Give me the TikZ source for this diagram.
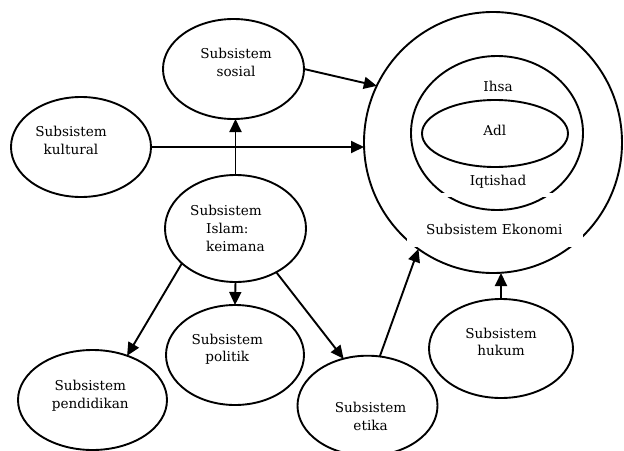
\documentclass[tikz,border=0pt]{standalone}
\usepackage{fontspec}
\setmainfont{DejaVu Serif}
\usetikzlibrary{arrows.meta,shapes.geometric}
\begin{document}
\begin{tikzpicture}[x=1pt,y=-1pt,
  bubble/.style={ellipse,draw,line width=1.9pt,inner sep=0pt,outer sep=0pt},
  lbl/.style={font=\fontsize{13.6}{17.6}\selectfont,align=center,anchor=base,inner sep=0pt},
  link/.style={line width=1.9pt,-{Triangle[length=13pt,width=12pt]}}]
\clip (0,0) rectangle (624,450);

% subsystem bubbles
\node[bubble,minimum width=141,minimum height=100] (sosial) at (233.5,69) {};
\node[bubble,minimum width=140,minimum height=100] (kultural) at (81,147) {};
\node[bubble,minimum width=141,minimum height=107] (islam) at (235.5,228.5) {};
\node[bubble,minimum width=138,minimum height=100] (politik) at (235,355) {};
\node[bubble,minimum width=149,minimum height=100] (pendidikan) at (92.5,400) {};
\node[bubble,minimum width=140,minimum height=100] (etika) at (367.5,405.7) {};
\node[bubble,minimum width=144,minimum height=99] (hukum) at (501,348.5) {};

% economic subsystem: nested rings
\node[bubble,minimum width=258,minimum height=261] (eko) at (493,142.5) {};
\node[bubble,minimum width=172,minimum height=154] (iqtishad) at (497,133) {};
\node[bubble,minimum width=146,minimum height=67] (adl) at (495,133.5) {};

% white panel behind the economic caption
\fill[white] (407,193) rectangle (583,247);
\begin{scope}
  \clip (400,197) rectangle (600,215);
  \draw[line width=1.9pt] (497,133) ellipse [x radius=86, y radius=77];
\end{scope}

% captions (base anchor = baseline of the last line)
\node[lbl] (tSosial) at (236,76) {Subsistem\\sosial};
\node[lbl] (tKultural) at (71,154) {Subsistem\\kultural};
\node[lbl,align=left,anchor=base west] (tIslam) at (190,251) {Subsistem\\\hspace*{16pt}Islam:\\\hspace*{16pt}keimana};
\node[lbl] (tPolitik) at (227.3,361.7) {Subsistem\\politik};
\node[lbl] (tPendidikan) at (90.3,408) {Subsistem\\pendidikan};
\node[lbl] (tEtika) at (370.6,430) {Subsistem\\etika};
\node[lbl] (tHukum) at (501,355.7) {Subsistem\\hukum};
\node[lbl] (tIhsa) at (498,91.7) {Ihsa};
\node[lbl] (tAdl) at (494.7,135) {Adl};
\node[lbl] (tIqtishad) at (498,185) {Iqtishad};
\node[lbl] (tEkonomi) at (494.3,234) {Subsistem Ekonomi};

% influences
\draw[link] (sosial.east) -- (eko.154.5);
\draw[link] (kultural.east) -- (kultural.east -| eko.west);
\draw[link] (islam.north) -- (islam.north |- sosial.south);
\draw[link] (islam.south) -- (politik.north);
\draw[link] (islam.213) -- (pendidikan.52);
\draw[link] (islam.313.7) -- (etika.117.6);
\draw[link] (etika.76) -- (eko.235.1);
\draw[link] (hukum.north) -- (hukum.north |- eko.south);
\end{tikzpicture}
\end{document}
